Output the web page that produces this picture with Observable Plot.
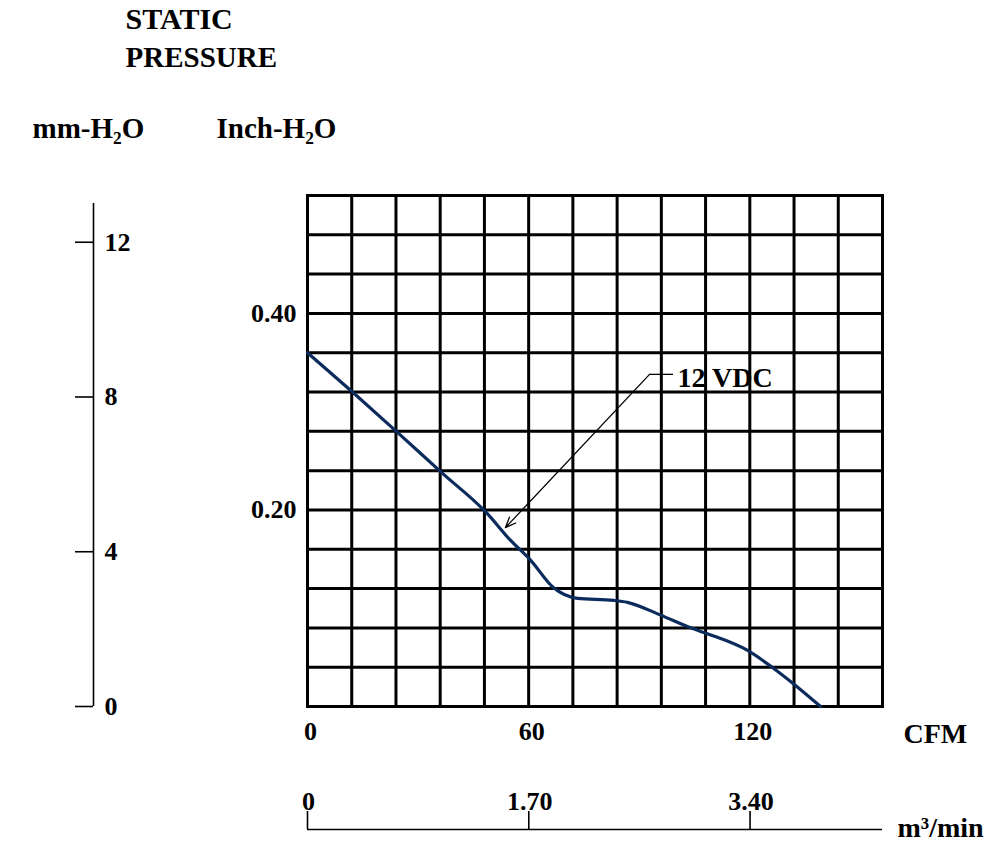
<!DOCTYPE html>
<html>
<head>
<meta charset="utf-8">
<script src="https://cdn.jsdelivr.net/npm/d3@7"></script>
<script src="https://cdn.jsdelivr.net/npm/@observablehq/plot@0.6"></script>
<style>
  body { margin: 0; background: #fff; }
  #chart svg { display: block; }
</style>
</head>
<body>
<div id="chart"></div>
<script>
// ---- data ----
const flowCFM      = [0, 12.2, 24.4, 36.4, 48.6, 55.1, 60.5, 66.7, 73.3, 83.0, 86.8, 95.8, 104.7, 108.5, 119.4, 126.4, 131.9, 139.2];
const pressureInch = [0.36, 0.320, 0.279, 0.238, 0.197, 0.169, 0.149, 0.121, 0.110, 0.108, 0.106, 0.093, 0.079, 0.074, 0.057, 0.039, 0.023, 0];

const gridCFM  = [0, 12, 24, 36, 48, 60, 72, 84, 96, 108, 120, 132, 144, 156];
const gridInch = [0, 0.04, 0.08, 0.12, 0.16, 0.20, 0.24, 0.28, 0.32, 0.36, 0.40, 0.44, 0.48, 0.52];

const cfmTicks  = [0, 60, 120];
const inchTicks = [0.20, 0.40];
const mmTicks   = [0, 4, 8, 12];
const mmAxisTop = 13;
const m3Ticks   = [0, 1.70, 3.40];
const m3Labels  = ["0", "1.70", "3.40"];

const MM_PER_INCH = 25.4;
const CFM_PER_M3MIN = 35.3147;

const annotation = [{label: "12 VDC", lx: 92.8, lx2: 99.3, ly: 0.338, tx: 53.7, ty: 0.182}];

const curveData = flowCFM.map((x, i) => ({x, y: pressureInch[i]}));
const xMax = gridCFM[gridCFM.length - 1];

const FONT = "Liberation Serif, Times New Roman, serif";
const txt = {fontFamily: FONT, fontWeight: "bold", fill: "#000"};
const title = {textAnchor: "start", lineAnchor: "middle", text: d => d, fontSize: 29, ...txt};

const chart = Plot.plot({
  width: 1000,
  height: 854,
  marginLeft: 307,
  marginRight: 118,
  marginTop: 195,
  marginBottom: 148,
  style: {fontFamily: FONT, fontWeight: "bold", fontSize: "26px", background: "#fff", color: "#000", overflow: "visible"},
  x: {domain: [0, xMax], axis: null},
  y: {domain: [0, gridInch[gridInch.length - 1]], axis: null},
  marks: [
    // grid
    Plot.gridX(gridCFM, {stroke: "#000", strokeOpacity: 1, strokeWidth: 3}),
    Plot.gridY(gridInch, {stroke: "#000", strokeOpacity: 1, strokeWidth: 3}),
    Plot.frame({stroke: "#000", strokeWidth: 3}),

    // curve
    Plot.line(curveData, {x: "x", y: "y", stroke: "#0b2b5c", strokeWidth: 3.2, curve: "monotone-x"}),

    // inch axis labels
    Plot.axisY(inchTicks, {anchor: "left", tickSize: 0, tickPadding: 11, tickFormat: d => d.toFixed(2), fontSize: 26, ...txt}),
    // CFM axis labels
    Plot.axisX(cfmTicks, {anchor: "bottom", tickSize: 0, tickPadding: 15, tickFormat: d => String(d), fontSize: 26, dx: 3, ...txt}),

    // mm-H2O axis (offset to the left)
    Plot.ruleX([0], {x: d => d, y1: () => 0, y2: () => mmAxisTop / MM_PER_INCH, dx: -214, stroke: "#000", strokeWidth: 1.6}),
    Plot.axisY(mmTicks.map(m => m / MM_PER_INCH), {anchor: "left", tickSize: 18, tickFormat: () => "", dx: -214, stroke: "#000", strokeWidth: 1.6}),
    Plot.text(mmTicks, {y: d => d / MM_PER_INCH, frameAnchor: "left", dx: -203, textAnchor: "start", lineAnchor: "middle", text: d => String(d), fontSize: 26, ...txt}),

    // m3/min axis (offset below)
    Plot.ruleY([0], {y: d => d, x1: () => 0, x2: () => xMax, dy: 123, stroke: "#000", strokeWidth: 1.6}),
    Plot.axisX(m3Ticks.map(v => v * CFM_PER_M3MIN), {anchor: "bottom", tickSize: 18, tickFormat: () => "", dy: 105, stroke: "#000", strokeWidth: 1.6}),
    Plot.text(m3Ticks, {x: d => d * CFM_PER_M3MIN, frameAnchor: "bottom", lineAnchor: "middle", dy: 95, dx: 1, text: (d, i) => m3Labels[i], fontSize: 26, ...txt}),

    // annotation
    Plot.arrow(annotation, {x1: "lx", y1: "ly", x2: "tx", y2: "ty", stroke: "#000", strokeWidth: 1.3, headLength: 13, headAngle: 45}),
    Plot.ruleY(annotation, {y: "ly", x1: "lx", x2: "lx2", stroke: "#000", strokeWidth: 1.3}),
    Plot.text(annotation, {x: "lx2", y: "ly", text: "label", textAnchor: "start", lineAnchor: "middle", dx: 4, dy: 4, fontSize: 28, ...txt}),

    // titles
    Plot.text(["STATIC"], {frameAnchor: "top-left", dx: -182, dy: -176, ...title, fontSize: 30}),
    Plot.text(["PRESSURE"], {frameAnchor: "top-left", dx: -182, dy: -138, ...title}),
    Plot.text(["mm-H\u2082O"], {frameAnchor: "top-left", dx: -275, dy: -67, ...title}),
    Plot.text(["Inch-H\u2082O"], {frameAnchor: "top-left", dx: -91, dy: -67, ...title}),
    Plot.text(["CFM"], {frameAnchor: "bottom-right", dx: 21, dy: 28, ...title, fontSize: 28}),
    Plot.text(["m\u00B3/min"], {frameAnchor: "bottom-right", dx: 15, dy: 122, ...title, fontSize: 28})
  ]
});

document.getElementById("chart").appendChild(chart);
</script>
</body>
</html>
